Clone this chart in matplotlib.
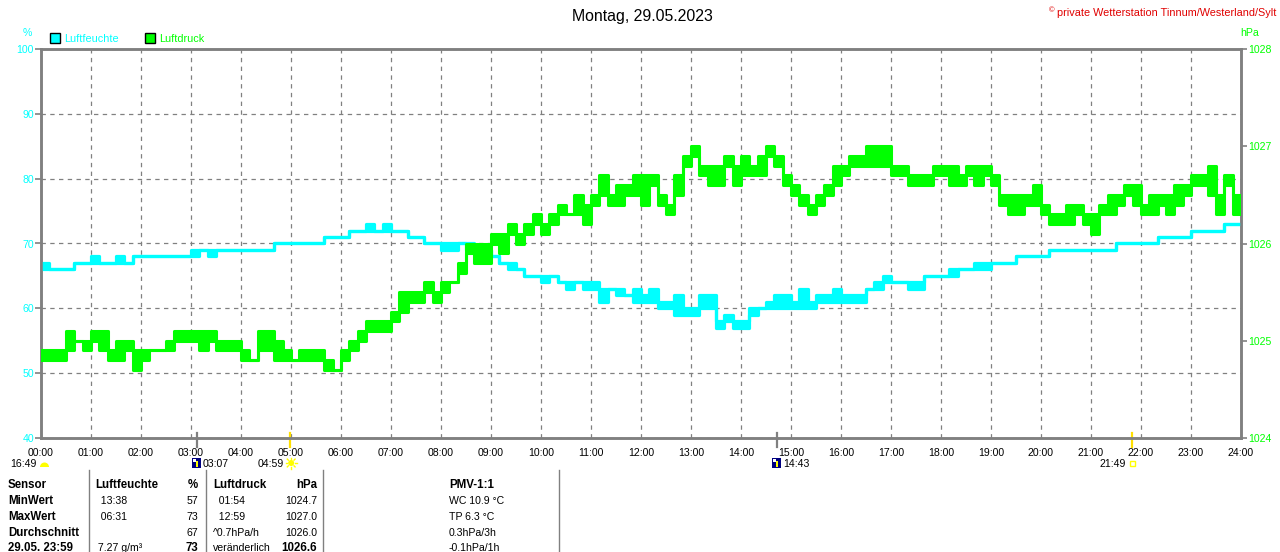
import matplotlib
matplotlib.use("Agg")
import matplotlib.pyplot as plt
from matplotlib.patches import Rectangle, Circle, Wedge
from matplotlib.lines import Line2D
from matplotlib.transforms import Affine2D, blended_transform_factory
import numpy as np

# ---------------- data (10-minute steps) ----------------
hours = list(range(25))
hour_labels = [f"{h:02d}:00" for h in hours]

hum_lo = [66,66,66,66,67,67, 67,67,67,67,67,68, 68,68,68,68,68,68, 68,69,68,69,69,69,
          69,69,69,69,70,70, 70,70,70,70,71,71, 71,72,72,72,72,72, 72,72,71,71,70,70,
          69,69,70,69,69,69, 68,67,66,66,65,65, 64,65,64,63,64,63, 63,61,63,62,62,61,
          61,61,60,60,59,59, 59,60,60,57,58,57, 57,59,60,60,60,60, 60,60,60,61,61,61,
          61,61,61,63,63,64, 64,64,63,63,65,65, 65,65,66,66,66,66, 67,67,67,68,68,68,
          68,69,69,69,69,69, 69,69,69,70,70,70, 70,70,71,71,71,71, 72,72,72,72,73,73, 73]
hum_hi = [67,66,66,66,67,67, 68,67,67,68,67,68, 68,68,68,68,68,68, 69,69,69,69,69,69,
          69,69,69,69,70,70, 70,70,70,70,71,71, 71,72,72,73,72,73, 72,72,71,71,70,70,
          70,70,70,70,69,69, 68,67,67,66,65,65, 65,65,64,64,64,64, 64,63,63,63,62,63,
          62,63,61,61,62,60, 60,62,62,58,59,58, 58,60,60,61,62,62, 61,63,61,62,62,63,
          62,62,62,63,64,65, 64,64,64,64,65,65, 65,66,66,66,67,67, 67,67,67,68,68,68,
          68,69,69,69,69,69, 69,69,69,70,70,70, 70,70,71,71,71,71, 72,72,72,72,73,73, 73]

p_lo = [1024.8,1024.8,1024.8,1024.9,1025.0,1024.9, 1025.0,1024.9,1024.8,1024.8,1024.9,1024.7,
        1024.8,1024.9,1024.9,1024.9,1025.0,1025.0, 1025.0,1024.9,1025.0,1024.9,1024.9,1024.9,
        1024.8,1024.8,1024.9,1024.9,1024.8,1024.8, 1024.8,1024.8,1024.8,1024.8,1024.7,1024.7,
        1024.8,1024.9,1025.0,1025.1,1025.1,1025.1, 1025.2,1025.3,1025.4,1025.4,1025.5,1025.4,
        1025.5,1025.6,1025.7,1025.9,1025.8,1025.8, 1026.0,1025.9,1026.1,1026.0,1026.1,1026.2,
        1026.1,1026.2,1026.3,1026.3,1026.3,1026.2, 1026.4,1026.5,1026.4,1026.4,1026.5,1026.5,
        1026.4,1026.6,1026.4,1026.3,1026.5,1026.8, 1026.9,1026.7,1026.6,1026.6,1026.8,1026.6,
        1026.7,1026.7,1026.7,1026.9,1026.8,1026.6, 1026.5,1026.4,1026.3,1026.4,1026.5,1026.6,
        1026.7,1026.8,1026.8,1026.8,1026.8,1026.8, 1026.7,1026.7,1026.6,1026.6,1026.6,1026.7,
        1026.7,1026.6,1026.6,1026.7,1026.6,1026.7, 1026.6,1026.4,1026.3,1026.3,1026.4,1026.4,
        1026.3,1026.2,1026.2,1026.2,1026.3,1026.2, 1026.1,1026.3,1026.3,1026.4,1026.5,1026.4,
        1026.3,1026.3,1026.4,1026.3,1026.4,1026.5, 1026.6,1026.6,1026.5,1026.3,1026.6,1026.3, 1026.4]
p_hi = [1024.9,1024.9,1024.9,1025.1,1025.0,1025.0, 1025.1,1025.1,1024.9,1025.0,1025.0,1024.9,
        1024.9,1024.9,1024.9,1025.0,1025.1,1025.1, 1025.1,1025.1,1025.1,1025.0,1025.0,1025.0,
        1024.9,1024.8,1025.1,1025.1,1025.0,1024.9, 1024.8,1024.9,1024.9,1024.9,1024.8,1024.7,
        1024.9,1025.0,1025.1,1025.2,1025.2,1025.2, 1025.3,1025.5,1025.5,1025.5,1025.6,1025.5,
        1025.6,1025.6,1025.8,1026.0,1026.0,1026.0, 1026.1,1026.1,1026.2,1026.1,1026.2,1026.3,
        1026.2,1026.3,1026.4,1026.3,1026.5,1026.4, 1026.5,1026.7,1026.5,1026.6,1026.6,1026.7,
        1026.7,1026.7,1026.5,1026.4,1026.7,1026.9, 1027.0,1026.8,1026.8,1026.8,1026.9,1026.8,
        1026.9,1026.8,1026.9,1027.0,1026.9,1026.7, 1026.6,1026.5,1026.4,1026.5,1026.6,1026.8,
        1026.8,1026.9,1026.9,1027.0,1027.0,1027.0, 1026.8,1026.8,1026.7,1026.7,1026.7,1026.8,
        1026.8,1026.8,1026.7,1026.8,1026.8,1026.8, 1026.7,1026.5,1026.5,1026.5,1026.5,1026.6,
        1026.4,1026.3,1026.3,1026.4,1026.4,1026.3, 1026.3,1026.4,1026.5,1026.5,1026.6,1026.6,
        1026.4,1026.5,1026.5,1026.5,1026.6,1026.6, 1026.7,1026.7,1026.8,1026.5,1026.7,1026.5, 1026.4]

t = np.arange(len(p_lo)) / 6.0   # 10-minute sampling, hours

# events below the time axis: (time, label, kind)
ev_times = [3 + 7/60, 4 + 59/60, 14 + 43/60, 21 + 49/60]
ev_labels = ["03:07", "04:59", "14:43", "21:49"]
ev_kinds = ["moon", "sun", "moon", "sunset"]

# table
table_rows = [
    ["Sensor", "Luftfeuchte", "%", "Luftdruck", "hPa", "PMV-1:1"],
    ["MinWert", "  13:38", "57", "  01:54", "1024.7", "WC 10.9 °C"],
    ["MaxWert", "  06:31", "73", "  12:59", "1027.0", "TP 6.3 °C"],
    ["Durchschnitt", "", "67", "^0.7hPa/h", "1026.0", "0.3hPa/3h"],
    ["29.05. 23:59", " 7.27 g/m³", "73", "veränderlich", "1026.6", "-0.1hPa/1h"],
]

# ---------------- styling ----------------
W, H = 1280, 552
CYAN = "#00FFFF"
GREEN = "#00FF00"
GREY = "#808080"
plt.rcParams['font.family'] = ['Liberation Sans', 'DejaVu Sans']

fig = plt.figure(figsize=(W / 100, H / 100), dpi=100)
px = Affine2D().scale(1 / W, -1 / H).translate(0, 1) + fig.transFigure

ax = fig.add_axes([41 / W, 1 - 438 / H, 1200 / W, 389 / H])
ax2 = ax.twinx()

# humidity
ax.fill_between(t, hum_lo, hum_hi, step='post', color=CYAN, lw=0, zorder=3)
ax.step(t, hum_lo, where='post', color=CYAN, lw=2.3, zorder=3)
ax.step(t, hum_hi, where='post', color=CYAN, lw=2.3, zorder=3)
# pressure
ax2.fill_between(t, p_lo, p_hi, step='post', color=GREEN, lw=0, zorder=3)
ax2.step(t, p_lo, where='post', color=GREEN, lw=2.2, zorder=3)
ax2.step(t, p_hi, where='post', color=GREEN, lw=2.2, zorder=3)

ax.set_xlim(0, 24)
ax.set_ylim(40, 100)
ax2.set_ylim(1024, 1028)
ax.set_xticks(hours)
ax.set_xticklabels(hour_labels)
ax.set_yticks(range(40, 101, 10))
ax2.set_yticks(range(1024, 1029))

ax.grid(True, color=GREY, linestyle=(0, (3.5, 3.5)), lw=0.9)
ax.set_axisbelow(True)
for a in (ax, ax2):
    for s in a.spines.values():
        s.set_color(GREY)
        s.set_linewidth(1.8)
ax.tick_params(axis='x', length=0, pad=7, labelsize=7.6, labelcolor='black')
ax.tick_params(axis='y', length=4, width=1.2, color=GREY, pad=1, labelsize=7.6, labelcolor=CYAN)
ax2.tick_params(axis='y', length=4, width=1.2, color=GREY, pad=1, labelsize=7.6, labelcolor=GREEN)

# ---------------- header ----------------
fig.text(642, 16, "Montag, 29.05.2023", transform=px, ha='center', va='center', fontsize=11.4)
fig.text(1276, 13, "private Wetterstation Tinnum/Westerland/Sylt", transform=px,
         ha='right', va='center', fontsize=7.85, color='#E00000')
fig.text(1052, 10.5, "©", transform=px, ha='center', va='center', fontsize=5.5, color='#E00000')
fig.text(27, 33, "%", transform=px, ha='center', va='center', fontsize=7.6, color=CYAN)
fig.text(1250, 33, "hPa", transform=px, ha='center', va='center', fontsize=7.6, color=GREEN)

fig.add_artist(Rectangle((50, 33), 10, 10, transform=px, facecolor=CYAN, edgecolor='black', lw=1))
fig.text(64, 38.5, "Luftfeuchte", transform=px, ha='left', va='center', fontsize=7.8, color=CYAN)
fig.add_artist(Rectangle((145, 33), 10, 10, transform=px, facecolor=GREEN, edgecolor='black', lw=1))
fig.text(159, 38.5, "Luftdruck", transform=px, ha='left', va='center', fontsize=7.8, color=GREEN)

# ---------------- events under the axis ----------------
evt = blended_transform_factory(ax.transData, px)
for et, lab, kind in zip(ev_times, ev_labels, ev_kinds):
    col = GREY if kind == "moon" else "#FFE000"
    ax.add_line(Line2D([et, et], [433, 447], transform=evt, color=col, lw=1.6, clip_on=False))
    xp = ax.transData.transform((et, 0))[0]
    if kind == "moon":
        fig.text(xp + 6, 464, lab, transform=px, ha='left', va='center', fontsize=7.6)
        fig.add_artist(Rectangle((xp - 5, 458), 9, 10, transform=px, facecolor='#000080', lw=0))
        fig.add_artist(Rectangle((xp - 4, 459), 3, 3, transform=px, facecolor='white', lw=0))
        fig.add_artist(Rectangle((xp - 1, 461), 2, 6, transform=px, facecolor='#FFFF00', lw=0))
    elif kind == "sun":
        fig.text(xp - 6, 464, lab, transform=px, ha='right', va='center', fontsize=7.6)
        fig.add_artist(Circle((xp + 1, 463), 3, transform=px, facecolor='#FFFF00', lw=0))
        for ang in np.arange(0, 360, 45):
            dx, dy = np.cos(np.radians(ang)), np.sin(np.radians(ang))
            fig.add_artist(Line2D([xp + 1 + 4 * dx, xp + 1 + 5.5 * dx], [463 + 4 * dy, 463 + 5.5 * dy],
                                  transform=px, color='#FFFF00', lw=1))
    else:
        fig.text(xp - 6, 464, lab, transform=px, ha='right', va='center', fontsize=7.6)
        fig.add_artist(Rectangle((xp - 2, 461), 5, 5, transform=px, facecolor='none',
                                 edgecolor='#FFFF00', lw=1))

fig.text(10, 464, "16:49", transform=px, ha='left', va='center', fontsize=7.6)
fig.add_artist(Wedge((44.5, 467), 4.5, 180, 360, transform=px, facecolor='#FFFF00', lw=0))

# ---------------- table ----------------
row_y = [485, 501, 517, 533, 548]
col_x = [8, 95, 198, 213, 317, 449]
col_ha = ['left', 'left', 'right', 'left', 'right', 'left']
for r, (yy, row) in enumerate(zip(row_y, table_rows)):
    for c, txt in enumerate(row):
        bold = (r == 0) or (c == 0) or (r == 4 and c in (2, 4))
        fig.text(col_x[c], yy, txt, transform=px, ha=col_ha[c], va='center',
                 fontsize=8.3 if bold else 7.6, fontweight='bold' if bold else 'normal')
for xs in (89, 206, 323, 559):
    fig.add_artist(Line2D([xs, xs], [470, 552], transform=px, color=GREY, lw=1))

fig.savefig("out.png", dpi=100)
